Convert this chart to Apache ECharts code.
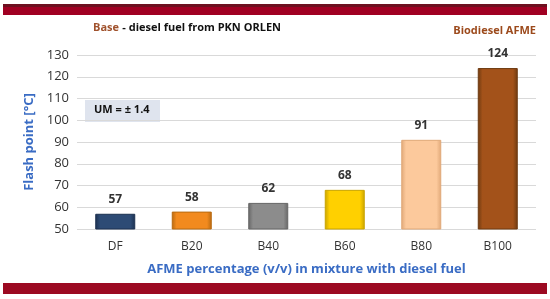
<!DOCTYPE html>
<html>
<head>
<meta charset="utf-8">
<script src="https://cdn.jsdelivr.net/npm/echarts@6/dist/echarts.min.js"></script>
<style>
html,body{margin:0;padding:0;background:#fff;}
#chart{width:550px;height:299px;}
</style>
</head>
<body>
<div id="chart"></div>
<script>
// data
var categories = ['DF', 'B20', 'B40', 'B60', 'B80', 'B100'];
var flashPoint = [57, 58, 62, 68, 91, 124];
var barColors = ['#2d4b75', '#f28a1e', '#8c8c8c', '#ffd000', '#fcc99c', '#a3521a'];
var barBorders = ['#1c3150', '#b86a10', '#666666', '#c9a400', '#e0a878', '#6e3a10'];
var yTicks = [50, 60, 70, 80, 90, 100, 110, 120, 130];

var font = 'Open Sans';
var chart = echarts.init(document.getElementById('chart'));

var seriesData = flashPoint.map(function(v, i){
	return {
		value: v,
		itemStyle: {
			color: new echarts.graphic.LinearGradient(0, 0, 1, 0, [
				{offset: 0, color: barBorders[i]},
				{offset: 0.12, color: barColors[i]},
				{offset: 0.88, color: barColors[i]},
				{offset: 1, color: barBorders[i]}
			]),
			borderColor: barBorders[i],
			borderWidth: 1
		}
	};
});

var option = {
	animation: false,
	grid: {left: 77, right: 14, top: 55, bottom: 70},
	xAxis: {
		type: 'category',
		data: categories,
		axisLine: {show: false},
		axisTick: {show: false},
		axisLabel: {color: '#333', fontSize: 12, fontFamily: font, margin: 12},
		name: 'AFME percentage (v/v) in mixture with diesel fuel',
		nameLocation: 'middle',
		nameGap: 34,
		nameTextStyle: {color: '#3a6cc4', fontSize: 13, fontWeight: 'bold', fontFamily: font}
	},
	yAxis: {
		type: 'value',
		min: yTicks[0],
		max: yTicks[yTicks.length - 1],
		interval: 10,
		axisLine: {show: false},
		axisTick: {show: false},
		splitLine: {lineStyle: {color: '#d9d9d9', width: 1}},
		axisLabel: {color: '#333', fontSize: 13, fontFamily: font, margin: 8},
		name: 'Flash point [°C]',
		nameLocation: 'middle',
		nameRotate: 90,
		nameGap: 40,
		nameTextStyle: {color: '#3a6cc4', fontSize: 13, fontWeight: 'bold', fontFamily: font}
	},
	series: [{
		type: 'bar',
		data: seriesData,
		barWidth: 40,
		label: {
			show: true,
			position: 'top',
			distance: 8,
			color: '#333',
			fontSize: 12,
			fontWeight: 'bold',
			fontFamily: font
		}
	}],
	graphic: [
		// red bands top and bottom
		{type: 'rect', left: 3, top: 4, shape: {width: 544, height: 11}, style: {fill: '#a00022'}},
		{type: 'rect', left: 3, top: 4, shape: {width: 544, height: 3}, style: {fill: '#6e1020'}},
		{type: 'rect', left: 3, top: 283, shape: {width: 544, height: 11}, style: {fill: '#9c0a22'}},
		// title
		{
			type: 'text', left: 93, top: 22,
			style: {
				text: '{a|Base} {b|- diesel fuel from PKN ORLEN}',
				rich: {
					a: {fill: '#a0522d', fontSize: 11, fontWeight: 'bold', fontFamily: font},
					b: {fill: '#111', fontSize: 11, fontWeight: 'bold', fontFamily: font}
				}
			}
		},
		{
			type: 'text', right: 14, top: 25,
			style: {text: 'Biodiesel AFME', fill: '#9c4a1c', fontSize: 11, fontWeight: 'bold', fontFamily: font}
		},
		// UM box
		{type: 'rect', left: 85, top: 100, shape: {width: 75, height: 22}, style: {fill: '#dfe4ee'}},
		{
			type: 'text', left: 94, top: 104,
			style: {text: 'UM = ± 1.4', fill: '#111', fontSize: 11, fontWeight: 'bold', fontFamily: font}
		}
	]
};
chart.setOption(option);
</script>
</body>
</html>
